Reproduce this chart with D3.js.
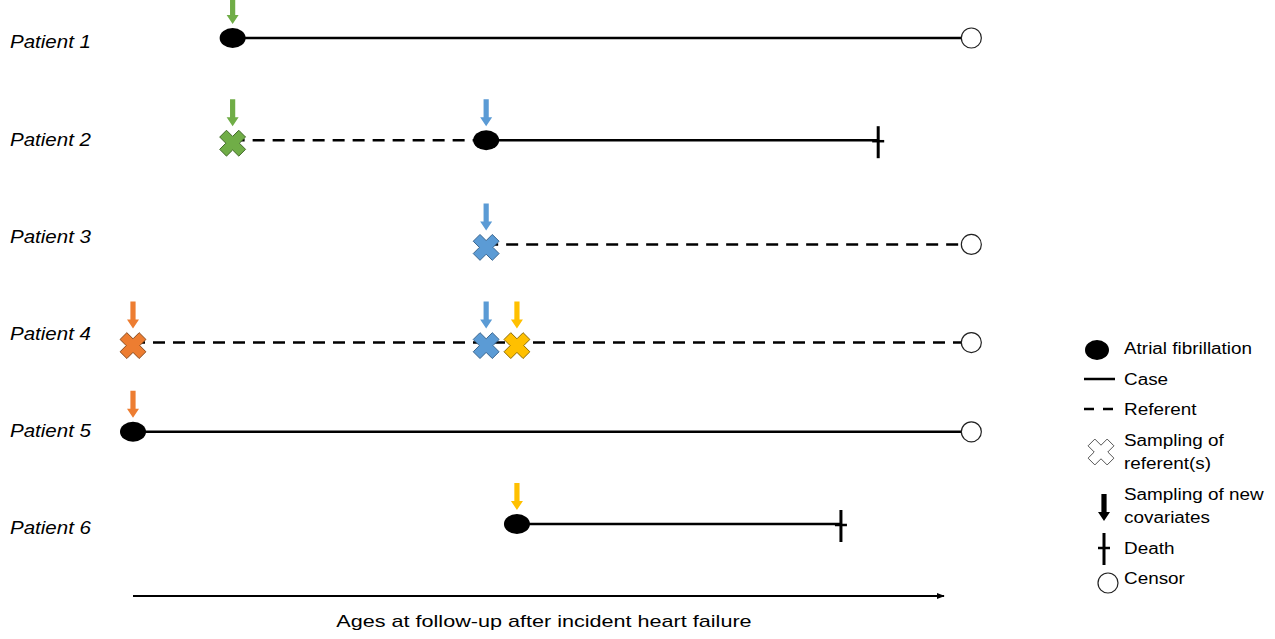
<!DOCTYPE html>
<html>
<head>
<meta charset="utf-8">
<script src="https://cdn.jsdelivr.net/npm/d3@7"></script>
<style>
  body { margin: 0; background: #fff; }
  text { font-family: "Liberation Sans", Arial, sans-serif; fill: #000; }
</style>
</head>
<body>
<svg id="chart" width="1275" height="639"></svg>
<script>
"use strict";

// follow-up time in arbitrary units (0 = start of the axis arrow)
var patients = ['Patient 1', 'Patient 2', 'Patient 3', 'Patient 4', 'Patient 5', 'Patient 6'];

var segments = [
  { patient: 'Patient 1', t0: 12.3, t1: 103.5, kind: 'case' },
  { patient: 'Patient 2', t0: 12.3, t1: 43.6, kind: 'referent' },
  { patient: 'Patient 2', t0: 43.6, t1: 92.0, kind: 'case' },
  { patient: 'Patient 3', t0: 43.6, t1: 103.5, kind: 'referent' },
  { patient: 'Patient 4', t0: 0, t1: 103.5, kind: 'referent' },
  { patient: 'Patient 5', t0: 0, t1: 103.5, kind: 'case' },
  { patient: 'Patient 6', t0: 47.4, t1: 87.4, kind: 'case' }
];

var afEvents = [
  { patient: 'Patient 1', t: 12.3 },
  { patient: 'Patient 2', t: 43.6 },
  { patient: 'Patient 5', t: 0 },
  { patient: 'Patient 6', t: 47.4 }
];

// sampling round: 1 = orange, 2 = green, 3 = blue, 4 = yellow
var referentSamplings = [
  { patient: 'Patient 2', t: 12.3, round: 2 },
  { patient: 'Patient 3', t: 43.6, round: 3 },
  { patient: 'Patient 4', t: 0, round: 1 },
  { patient: 'Patient 4', t: 43.6, round: 3 },
  { patient: 'Patient 4', t: 47.4, round: 4 }
];

var covariateSamplings = [
  { patient: 'Patient 1', t: 12.3, round: 2 },
  { patient: 'Patient 2', t: 12.3, round: 2 },
  { patient: 'Patient 2', t: 43.6, round: 3 },
  { patient: 'Patient 3', t: 43.6, round: 3 },
  { patient: 'Patient 4', t: 0, round: 1 },
  { patient: 'Patient 4', t: 43.6, round: 3 },
  { patient: 'Patient 4', t: 47.4, round: 4 },
  { patient: 'Patient 5', t: 0, round: 1 },
  { patient: 'Patient 6', t: 47.4, round: 4 }
];

var deaths = [
  { patient: 'Patient 2', t: 92.0 },
  { patient: 'Patient 6', t: 87.4 }
];

var censors = [
  { patient: 'Patient 1', t: 103.5 },
  { patient: 'Patient 3', t: 103.5 },
  { patient: 'Patient 4', t: 103.5 },
  { patient: 'Patient 5', t: 103.5 }
];

var legendItems = ['Atrial fibrillation', 'Case', 'Referent', 'Sampling of|referent(s)',
  'Sampling of new|covariates', 'Death', 'Censor'];
var axisLabel = 'Ages at follow-up after incident heart failure';

var rounds = [1, 2, 3, 4];
var fillColor = d3.scaleOrdinal().domain(rounds)
  .range(['#ED7D31', '#70AD47', '#5B9BD5', '#FFC000']);
var edgeColor = d3.scaleOrdinal().domain(rounds)
  .range(['#8a4a1c', '#42692a', '#3a6690', '#8f6c00']);

function crossPath(w, L) {
  var pts = [[-w, -L], [w, -L], [w, -w], [L, -w], [L, w], [w, w], [w, L], [-w, L],
    [-w, w], [-L, w], [-L, -w], [-w, -w]];
  var c = Math.SQRT1_2;
  var rot = pts.map(function (p) { return [c * (p[0] - p[1]), c * (p[0] + p[1])]; });
  return d3.line()(rot) + 'Z';
}

function arrowPath(len) {
  // pointing down, tip at (0,0)
  var hw = 2.6, hh = 6, head = 9;
  return 'M' + (-hw) + ',' + (-len) + 'L' + hw + ',' + (-len) + 'L' + hw + ',' + (-head) +
    'L' + hh + ',' + (-head) + 'L0,0L' + (-hh) + ',' + (-head) + 'L' + (-hw) + ',' + (-head) + 'Z';
}

function drawDeath(g, x, y) {
  g.append('line').attr('x1', x).attr('x2', x).attr('y1', y - 14).attr('y2', y + 18)
    .attr('stroke', '#000').attr('stroke-width', 3);
  g.append('line').attr('x1', x - 6).attr('x2', x + 6).attr('y1', y + 1).attr('y2', y + 1)
    .attr('stroke', '#000').attr('stroke-width', 2.5);
}

// the source text is drawn a bit wider than the installed fonts
function stretch(sel, factor) {
  sel.each(function () {
    var w = this.getComputedTextLength();
    d3.select(this).attr('textLength', w * factor).attr('lengthAdjust', 'spacingAndGlyphs');
  });
}

function draw_chart() {
  var svg = d3.select('#chart');

  var X = d3.scaleLinear().domain([0, 100]).range([133, 943]);
  var Y = d3.scalePoint().domain(patients).range([42, 528]);
  // the timelines do not sit exactly on the label centres
  var lineShift = { 'Patient 1': -4, 'Patient 2': 1, 'Patient 3': 8, 'Patient 4': 9, 'Patient 5': 1, 'Patient 6': -4 };
  var L = function (p) { return Y(p) + lineShift[p]; };

  var plot = svg.append('g');

  // patient labels
  plot.selectAll('text.patient')
    .data(patients)
    .enter().append('text')
    .attr('class', 'patient')
    .attr('x', 10)
    .attr('y', function (d) { return Y(d); })
    .attr('dy', '0.35em')
    .style('font-size', '18px')
    .style('font-style', 'italic')
    .text(function (d) { return d; })
    .call(stretch, 1.14);

  // follow-up lines
  plot.selectAll('line.seg')
    .data(segments)
    .enter().append('line')
    .attr('class', 'seg')
    .attr('x1', function (d) { return X(d.t0); })
    .attr('x2', function (d) { return X(d.t1); })
    .attr('y1', function (d) { return L(d.patient); })
    .attr('y2', function (d) { return L(d.patient); })
    .attr('stroke', '#000')
    .attr('stroke-width', 2.5)
    .attr('stroke-dasharray', function (d) { return d.kind === 'referent' ? '12,8' : null; });

  // censoring
  plot.selectAll('circle.censor')
    .data(censors)
    .enter().append('circle')
    .attr('class', 'censor')
    .attr('cx', function (d) { return X(d.t); })
    .attr('cy', function (d) { return L(d.patient); })
    .attr('r', 10)
    .attr('fill', '#fff')
    .attr('stroke', '#222')
    .attr('stroke-width', 1.2);

  // deaths
  deaths.forEach(function (d) { drawDeath(plot, X(d.t), L(d.patient)); });

  // atrial fibrillation
  plot.selectAll('ellipse.af')
    .data(afEvents)
    .enter().append('ellipse')
    .attr('class', 'af')
    .attr('cx', function (d) { return X(d.t); })
    .attr('cy', function (d) { return L(d.patient); })
    .attr('rx', 13)
    .attr('ry', 10)
    .attr('fill', '#000');

  // referent sampling crosses
  plot.selectAll('path.xmark')
    .data(referentSamplings)
    .enter().append('path')
    .attr('class', 'xmark')
    .attr('d', crossPath(4.8, 13.5))
    .attr('transform', function (d) { return 'translate(' + X(d.t) + ',' + (L(d.patient) + 3) + ')'; })
    .attr('fill', function (d) { return fillColor(d.round); })
    .attr('stroke', function (d) { return edgeColor(d.round); })
    .attr('stroke-width', 1);

  // covariate sampling arrows
  plot.selectAll('path.arrow')
    .data(covariateSamplings)
    .enter().append('path')
    .attr('class', 'arrow')
    .attr('d', arrowPath(27))
    .attr('transform', function (d) { return 'translate(' + X(d.t) + ',' + (L(d.patient) - 14) + ')'; })
    .attr('fill', function (d) { return fillColor(d.round); });

  // time axis arrow
  var axisY = 596;
  svg.append('defs').append('marker')
    .attr('id', 'head')
    .attr('viewBox', '0 0 10 10')
    .attr('refX', 9).attr('refY', 5)
    .attr('markerWidth', 4).attr('markerHeight', 4)
    .attr('orient', 'auto')
    .append('path').attr('d', 'M0,1L10,5L0,9Z').attr('fill', '#000');
  svg.append('line')
    .attr('x1', X(0)).attr('x2', X(100) + 1)
    .attr('y1', axisY).attr('y2', axisY)
    .attr('stroke', '#000').attr('stroke-width', 2)
    .attr('marker-end', 'url(#head)');
  svg.append('text')
    .attr('x', 544)
    .attr('y', 627)
    .attr('text-anchor', 'middle')
    .style('font-size', '17px')
    .text(axisLabel)
    .call(stretch, 1.27);

  _draw_legend(svg);
}

function _draw_legend(svg) {
  var lg = svg.append('g').attr('class', 'legend');
  var tx = 1124;
  var rowsY = [348, 379, 409, 440, 494, 548, 578];

  lg.append('ellipse').attr('cx', 1097).attr('cy', 350).attr('rx', 12).attr('ry', 10).attr('fill', '#000');
  lg.append('line').attr('x1', 1084).attr('x2', 1115).attr('y1', 379).attr('y2', 379)
    .attr('stroke', '#000').attr('stroke-width', 2.5);
  lg.append('line').attr('x1', 1084).attr('x2', 1115).attr('y1', 409).attr('y2', 409)
    .attr('stroke', '#000').attr('stroke-width', 2.5).attr('stroke-dasharray', '10,9');
  lg.append('path').attr('d', crossPath(4.8, 13.5))
    .attr('transform', 'translate(1101,452)')
    .attr('fill', '#fff').attr('stroke', '#555').attr('stroke-width', 1);
  lg.append('path').attr('d', arrowPath(27))
    .attr('transform', 'translate(1104,521)').attr('fill', '#000');
  drawDeath(lg, 1104, 547);
  lg.append('circle').attr('cx', 1108).attr('cy', 583).attr('r', 10)
    .attr('fill', '#fff').attr('stroke', '#222').attr('stroke-width', 1.2);

  legendItems.forEach(function (item, i) {
    item.split('|').forEach(function (part, j) {
      lg.append('text')
        .attr('x', tx)
        .attr('y', rowsY[i] + j * 23)
        .attr('dy', '0.35em')
        .style('font-size', '16px')
        .text(part)
        .call(stretch, 1.18);
    });
  });
}

draw_chart();
</script>
</body>
</html>
